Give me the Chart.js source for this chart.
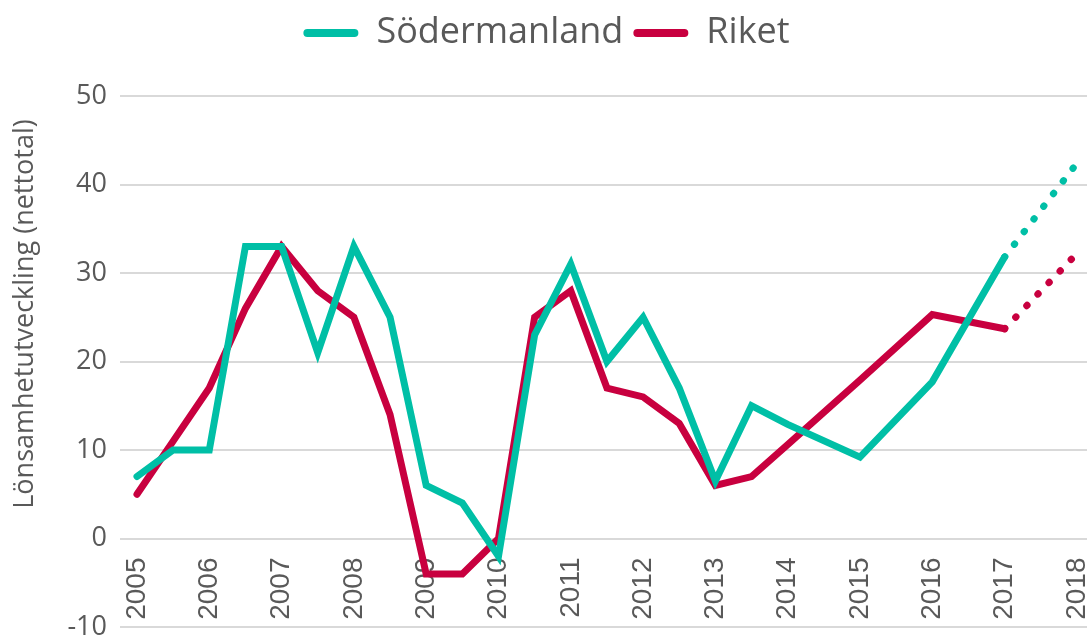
<!DOCTYPE html>
<html lang="sv">
<head>
<meta charset="utf-8">
<title>Lönsamhetsutveckling</title>
<script src="https://cdn.jsdelivr.net/npm/chart.js@4/dist/chart.umd.min.js"></script>
<style>
    html, body { margin: 0; padding: 0; background: #fff; }
    #wrap { width: 1087px; height: 636px; position: relative; }
</style>
</head>
<body>
<div id="wrap"><canvas id="profitChart"></canvas></div>
<script>
// Mätpunkter (halvår t.o.m. 2013, därefter år)
const years = [2005, 2005.5, 2006, 2006.5, 2007, 2007.5, 2008, 2008.5, 2009, 2009.5, 2010, 2010.5,
               2011, 2011.5, 2012, 2012.5, 2013, 2013.5, 2014, 2015, 2016, 2017];
const sodermanland = [7, 10, 10, 33, 33, 21, 33, 25, 6, 4, -2, 23,
                      31, 20, 25, 17, 6.5, 15, 12.9, 9.2, 17.7, 31.8];
const riket = [5, 11, 17, 26, 33, 28, 25, 14, -4, -4, 0, 25,
               28, 17, 16, 13, 6, 7, 10.6, 17.9, 25.3, 23.7];

// Prognos (prickad)
const forecastYears = [2017, 2018];
const sodermanlandForecast = [31.8, 42.4];
const riketForecast = [23.7, 32.2];

const yTicks = [-10, 0, 10, 20, 30, 40, 50];
const yTitle = 'Lönsamhetutveckling (nettotal)';

const TEAL = '#00BFA6';
const RED = '#C8003F';
const TEXT = '#595959';
const FONT = "'Open Sans', sans-serif";

const toPoints = (xs, ys) => xs.map((x, i) => ({ x: x, y: ys[i] }));

const solid = (label, xs, ys, color) => ({
    label: label,
    data: toPoints(xs, ys),
    borderColor: color,
    backgroundColor: color,
    borderWidth: 7,
    borderCapStyle: 'round',
    borderJoinStyle: 'miter',
    pointRadius: 0,
    tension: 0,
    fill: false
});

const dotted = (label, xs, ys, color) => ({
    ...solid(label, xs, ys, color),
    borderDash: [0.5, 15.5]
});

// extra luft under legenden så att diagrammet börjar på rätt höjd
const legendSpacer = {
    id: 'legendSpacer',
    beforeInit(chart) {
        const fit = chart.legend.fit;
        chart.legend.fit = function() {
            fit.bind(chart.legend)();
            this.height += 35;
        };
    }
};

// axeltiteln sitter lite ovanför mitten i originalet
const yAxisTitle = {
    id: 'yAxisTitle',
    afterDraw(chart) {
        const c = chart.ctx;
        c.save();
        c.translate(25, 314);
        c.rotate(-Math.PI / 2);
        c.font = `27px ${FONT}`;
        c.fillStyle = TEXT;
        c.textAlign = 'center';
        c.textBaseline = 'middle';
        c.fillText(yTitle, 0, 0);
        c.restore();
    }
};

const ctx = document.getElementById('profitChart').getContext('2d');
new Chart(ctx, {
    type: 'line',
    data: {
        datasets: [
            solid('Södermanland', years, sodermanland, TEAL),
            solid('Riket', years, riket, RED),
            dotted('Södermanland prognos', forecastYears, sodermanlandForecast, TEAL),
            dotted('Riket prognos', forecastYears, riketForecast, RED)
        ]
    },
    plugins: [legendSpacer, yAxisTitle],
    options: {
        responsive: true,
        maintainAspectRatio: false,
        animation: false,
        layout: { padding: { top: 5, left: 6, right: 0, bottom: 9 } },
        plugins: {
            tooltip: { enabled: false },
            legend: {
                position: 'top',
                align: 'center',
                labels: {
                    color: TEXT,
                    font: { family: FONT, size: 36 },
                    boxWidth: 55,
                    boxHeight: 8,
                    useBorderRadius: true,
                    borderRadius: 4,
                    padding: 10,
                    generateLabels: (chart) => Chart.defaults.plugins.legend.labels.generateLabels(chart)
                        .filter(item => item.datasetIndex < 2)
                        .map(item => ({ ...item, lineWidth: 0, fillStyle: item.strokeStyle, lineDash: [] }))
                }
            }
        },
        scales: {
            x: {
                type: 'linear',
                position: { y: 0 },
                min: 2004.765,
                max: 2018.14,
                grid: { display: false },
                border: { display: false },
                afterFit: (axis) => { axis.paddingLeft = 0; axis.paddingRight = 0; },
                ticks: {
                    stepSize: 1,
                    includeBounds: false,
                    autoSkip: false,
                    minRotation: 90,
                    maxRotation: 90,
                    padding: 11,
                    color: TEXT,
                    font: { family: "'Liberation Sans', sans-serif", size: 28 },
                    callback: (v) => Number.isInteger(v) ? String(v) : ''
                }
            },
            y: {
                min: -10,
                max: 50,
                afterBuildTicks: (axis) => { axis.ticks = yTicks.map(v => ({ value: v })); },
                afterFit: (axis) => { axis.width = 114; axis.paddingTop = 0; axis.paddingBottom = 0; },
                grid: { color: '#D9D9D9', lineWidth: 2, drawTicks: false },
                border: { display: false },
                ticks: {
                    padding: 13,
                    color: TEXT,
                    font: { family: FONT, size: 27 }
                },
                title: { display: false }
            }
        }
    }
});
</script>
</body>
</html>
